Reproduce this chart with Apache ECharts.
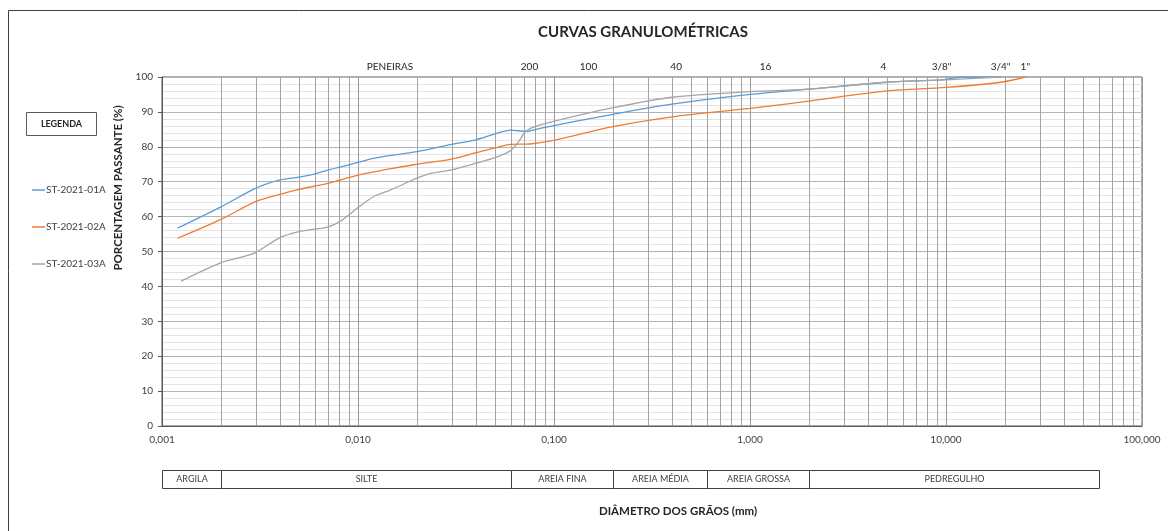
<!DOCTYPE html>
<html>
<head>
<meta charset="utf-8">
<script src="https://cdn.jsdelivr.net/npm/echarts@6/dist/echarts.min.js"></script>
<style>
html,body{margin:0;padding:0;background:#fff;}
#chart{width:1168px;height:531px;}
</style>
</head>
<body>
<div id="chart"></div>
<script>
// ---- data ----
const seriesNames = ['ST-2021-01A', 'ST-2021-02A', 'ST-2021-03A'];
const seriesColors = ['#5B9BD5', '#ED7D31', '#A5A5A5'];

const d1 = [0.0012,0.002,0.003,0.004,0.005,0.006,0.007,0.009,0.012,0.02,0.03,0.04,0.05,0.06,0.072,0.085,0.2,0.4,1,2,5,9.5,12.5,19];
const p1 = [56.7,62.8,68.1,70.5,71.3,72.2,73.3,74.8,76.7,78.6,80.7,82.0,83.7,84.8,84.4,85.3,89.3,92.2,95.0,96.5,98.5,99.2,100,100];

const d2 = [0.0012,0.002,0.003,0.004,0.005,0.007,0.01,0.014,0.02,0.03,0.04,0.05,0.06,0.075,0.2,0.4,1,2,5,10,19,25.4];
const p2 = [53.8,59.2,64.3,66.4,67.8,69.5,71.9,73.5,75.0,76.5,78.3,79.7,80.7,80.8,85.8,88.6,91.0,93.1,96.0,97.0,98.5,100];

const d3 = [0.00125,0.002,0.0024,0.003,0.004,0.005,0.006,0.007,0.008,0.009,0.01,0.012,0.0146,0.02,0.0233,0.03,0.04,0.05,0.06,0.066,0.072,0.08,0.107,0.2,0.4,1,2,5,10,19];
const p3 = [41.5,46.8,48.0,49.7,54.0,55.7,56.4,57.0,58.4,60.5,62.6,65.7,67.6,71.0,72.3,73.4,75.3,76.9,78.9,81.5,84.5,85.8,87.7,91.2,94.2,95.8,96.5,98.5,99.2,100];

const sieveLabels = ['200', '100', '40', '16', '4', '3/8"', '3/4"', '1"'];
const sieveSizes = [0.075, 0.15, 0.42, 1.2, 4.8, 9.5, 19, 25.4];

const soilNames = ['ARGILA', 'SILTE', 'AREIA FINA', 'AREIA MÉDIA', 'AREIA GROSSA', 'PEDREGULHO'];
const soilEdges = [0.001, 0.002, 0.06, 0.2, 0.6, 2, 60];

const decades = [0.001, 0.01, 0.1, 1, 10];
const minorMultipliers = [2, 3, 4, 5, 6, 7, 8, 9];

// ---- chart ----
const FONT = 'Lato';
const chart = echarts.init(document.getElementById('chart'));

const gridValues = [];
decades.forEach(d => minorMultipliers.forEach(m => gridValues.push(+(d * m).toPrecision(6))));

function pairs(xs, ys) { return xs.map((x, i) => [x, ys[i]]); }
const seriesData = [pairs(d1, p1), pairs(d2, p2), pairs(d3, p3)];

const option = {
  animation: false,
  backgroundColor: '#fff',
  textStyle: { fontFamily: FONT },
  title: {
    text: 'CURVAS GRANULOMÉTRICAS',
    left: 638, top: 20, textAlign: 'center',
    textStyle: { fontFamily: FONT, fontSize: 15, fontWeight: 'bold', color: '#262626' }
  },
  legend: {
    orient: 'vertical', left: 27, top: 180, itemGap: 27,
    icon: 'rect', itemWidth: 13, itemHeight: 1.5,
    data: seriesNames,
    textStyle: { fontFamily: FONT, fontSize: 10, color: '#404040', padding: [0, 0, 0, -4] }
  },
  grid: { left: 162, right: 26, top: 77, bottom: 105, show: true, borderColor: '#595959', borderWidth: 1, backgroundColor: 'transparent' },
  xAxis: {
    type: 'log', logBase: 10, min: 0.001, max: 100,
    axisLine: { show: true, lineStyle: { color: '#595959' } },
    axisTick: { show: false },
    axisLabel: {
      fontFamily: FONT, fontSize: 10, color: '#404040', margin: 9,
      formatter: v => v.toFixed(3).replace('.', ',')
    },
    splitLine: { show: true, lineStyle: { color: '#999999', width: 1 } }
  },
  yAxis: {
    type: 'value', min: 0, max: 100, interval: 10,
    axisLine: { show: true, lineStyle: { color: '#595959' } },
    axisTick: { show: true, length: 4, lineStyle: { color: '#595959' } },
    axisLabel: { fontFamily: FONT, fontSize: 10, color: '#404040', margin: 9 },
    splitLine: { show: true, lineStyle: { color: '#b4b4b4' } },
    minorTick: { show: false, splitNumber: 5 },
    minorSplitLine: { show: true, lineStyle: { color: '#e3e3e3' } }
  },
  series: [
    {
      name: '__grid', type: 'custom', z: 1, silent: true,
      data: gridValues.map(v => [v]),
      encode: { x: 0 },
      clip: true,
      renderItem: function (params, api) {
        const v = api.value(0);
        const p0 = api.coord([v, 0]);
        const p1c = api.coord([v, 100]);
        const x = Math.round(p0[0]) + 0.5;
        return {
          type: 'line',
          shape: { x1: x, y1: p0[1], x2: x, y2: p1c[1] },
          style: { stroke: '#a3a3a3', lineWidth: 1 },
          silent: true
        };
      }
    }
  ].concat(seriesNames.map((n, i) => ({
    name: n, type: 'line', data: seriesData[i], z: 3,
    smooth: 0.3, showSymbol: false, symbol: 'none',
    lineStyle: { color: seriesColors[i], width: 1.3 },
    itemStyle: { color: seriesColors[i] }
  })))
};
chart.setOption(option);

// ---- overlay graphics positioned via axis scale ----
const px = v => chart.convertToPixel({ xAxisIndex: 0 }, v);
const g = [];
// outer border
g.push({ type: 'rect', shape: { x: 8.5, y: 10.5, width: 1300, height: 700 }, style: { fill: 'none', stroke: '#404040', lineWidth: 1 }, silent: true });
// legend header box
g.push({ type: 'rect', shape: { x: 26.5, y: 112.5, width: 70, height: 23 }, style: { fill: '#fff', stroke: '#595959', lineWidth: 1 } });
g.push({ type: 'text', x: 61.5, y: 124, style: { text: 'LEGENDA', fontFamily: FONT, fontSize: 9, fontWeight: 'bold', fill: '#262626', align: 'center', verticalAlign: 'middle' } });
// y axis title
g.push({ type: 'text', x: 118, y: 188, rotation: Math.PI / 2, style: { text: 'PORCENTAGEM PASSANTE (%)', fontFamily: FONT, fontSize: 11.5, fontWeight: 'bold', fill: '#262626', align: 'center', verticalAlign: 'middle' } });
// x axis title
g.push({ type: 'text', x: 678, y: 511, style: { text: 'DIÂMETRO DOS GRÃOS (mm)', fontFamily: FONT, fontSize: 11.5, fontWeight: 'bold', fill: '#262626', align: 'center', verticalAlign: 'middle' } });
// sieve labels
g.push({ type: 'text', x: 390, y: 67, style: { text: 'PENEIRAS', fontFamily: FONT, fontSize: 10, fill: '#262626', align: 'center', verticalAlign: 'middle' } });
sieveSizes.forEach((s, i) => {
  g.push({ type: 'text', x: px(s), y: 67, style: { text: sieveLabels[i], fontFamily: FONT, fontSize: 10, fill: '#262626', align: 'center', verticalAlign: 'middle' } });
});
// soil classification band
for (let i = 0; i < soilNames.length; i++) {
  const x0 = Math.round(px(soilEdges[i])) + 0.5;
  const x1 = Math.round(px(soilEdges[i + 1])) + 0.5;
  g.push({ type: 'rect', shape: { x: x0, y: 470.5, width: x1 - x0, height: 18 }, style: { fill: '#fff', stroke: '#404040', lineWidth: 1 } });
  g.push({ type: 'text', x: (x0 + x1) / 2, y: 479.5, style: { text: soilNames[i], fontFamily: FONT, fontSize: 9, fill: '#404040', align: 'center', verticalAlign: 'middle' } });
}
chart.setOption({ graphic: g });
</script>
</body>
</html>
